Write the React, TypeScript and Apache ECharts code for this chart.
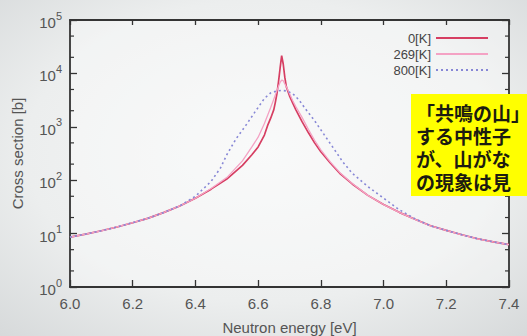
import React, { useEffect, useRef } from "react";
import * as echarts from "echarts";

// ---- data ----
const energy0K = [6.0, 6.05, 6.1, 6.15, 6.2, 6.25, 6.3, 6.35, 6.4, 6.45, 6.5, 6.55, 6.58, 6.6, 6.62, 6.63, 6.64, 6.65, 6.655, 6.66, 6.665, 6.67, 6.675, 6.68, 6.685, 6.69, 6.7, 6.71, 6.72, 6.74, 6.76, 6.78, 6.8, 6.83, 6.86, 6.9, 6.95, 7.0, 7.05, 7.1, 7.15, 7.2, 7.25, 7.3, 7.35, 7.4];
const sigma0K = [8.6, 9.8, 11.3, 13.3, 16, 19.5, 25, 33, 46, 68, 105, 190, 300, 420, 700, 1050, 1450, 2100, 2900, 4200, 7000, 12500, 21500, 15000, 8500, 5600, 3800, 2800, 2100, 1250, 780, 500, 340, 210, 135, 85, 52, 35, 25, 18.5, 14, 11.5, 9.5, 8, 7, 6.2];

const energy269K = [6.0, 6.05, 6.1, 6.15, 6.2, 6.25, 6.3, 6.35, 6.4, 6.45, 6.5, 6.55, 6.58, 6.6, 6.62, 6.64, 6.65, 6.66, 6.67, 6.675, 6.68, 6.69, 6.7, 6.71, 6.72, 6.74, 6.76, 6.78, 6.8, 6.83, 6.86, 6.9, 6.95, 7.0, 7.05, 7.1, 7.15, 7.2, 7.25, 7.3, 7.35, 7.4];
const sigma269K = [8.6, 9.8, 11.3, 13.3, 16, 19.5, 25, 33, 46, 70, 112, 230, 420, 640, 1150, 2300, 3300, 4800, 6800, 7500, 7300, 5600, 4200, 3100, 2400, 1500, 900, 560, 370, 220, 140, 87, 52, 35, 25, 18.5, 14, 11.5, 9.5, 8, 7, 6.2];

const energy800K = [6.0, 6.05, 6.1, 6.15, 6.2, 6.25, 6.3, 6.35, 6.4, 6.45, 6.48, 6.5, 6.53, 6.56, 6.59, 6.62, 6.64, 6.66, 6.675, 6.69, 6.71, 6.73, 6.75, 6.78, 6.81, 6.84, 6.87, 6.9, 6.95, 7.0, 7.05, 7.1, 7.15, 7.2, 7.25, 7.3, 7.35, 7.4];
const sigma800K = [8.6, 9.8, 11.3, 13.3, 16, 19.5, 25, 33, 50, 95, 170, 300, 600, 1050, 1900, 3400, 4300, 4700, 4800, 4700, 4200, 3200, 2200, 1300, 720, 400, 220, 135, 76, 46, 28, 19, 14, 11.5, 9.5, 8, 7, 6.2];

const seriesNames = ["0[K]", "269[K]", "800[K]"];
const minorTickValues = [2, 5, 20, 50, 200, 500, 2000, 5000, 20000, 50000];
const annotationLines = ["「共鳴の山」", "する中性子", "が、山がな", "の現象は見"];

const X_MIN = 6.0;
const X_MAX = 7.4;
const FONT = "'Liberation Sans', Arial, sans-serif";
const JP_FONT = "'Noto Sans CJK JP', sans-serif";
const AXIS_COLOR = "#343434";
const LABEL_COLOR = "#555";

const zip = (xs: number[], ys: number[]) => xs.map((x, i) => [x, ys[i]]);

export default function App() {
  const ref = useRef<HTMLDivElement>(null);

  useEffect(() => {
    document.body.style.margin = "0";
    const chart = echarts.init(ref.current!, null, { renderer: "svg" });

    const axisLine = { show: true, lineStyle: { color: AXIS_COLOR, width: 1.8 } };
    const axisTick = { show: true, inside: true, length: 7, lineStyle: { color: AXIS_COLOR, width: 1.3 } };

    const option: any = {
      animation: false,
      backgroundColor: new echarts.graphic.RadialGradient(0.5, 0.45, 0.75, [
        { offset: 0, color: "#f6f7f7" },
        { offset: 0.6, color: "#eceeee" },
        { offset: 1, color: "#d6d9da" },
      ]),
      grid: {
        left: 70,
        right: 18,
        top: 20,
        bottom: 49,
        containLabel: false,
        outerBoundsMode: "none",
        show: true,
        borderWidth: 0,
        backgroundColor: "rgba(255,255,255,0.35)",
      },
      legend: {
        data: seriesNames,
        orient: "vertical",
        align: "right",
        right: 33,
        top: 25,
        itemWidth: 52,
        itemHeight: 16,
        itemGap: 0,
        itemStyle: { color: "rgba(0,0,0,0)", borderWidth: 0, opacity: 0 },
        textStyle: { fontFamily: FONT, fontSize: 13, color: "#444", lineHeight: 16 },
        selectedMode: false,
      },
      xAxis: [
        {
          type: "value",
          min: X_MIN,
          max: X_MAX,
          interval: 0.2,
          position: "bottom",
          name: "Neutron energy [eV]",
          nameLocation: "middle",
          nameGap: 33,
          nameTextStyle: { fontFamily: FONT, fontSize: 15, color: LABEL_COLOR },
          axisLine,
          axisTick,
          splitLine: { show: false },
          axisLabel: {
            margin: 9,
            fontFamily: FONT,
            fontSize: 15,
            color: LABEL_COLOR,
            formatter: (v: number) => v.toFixed(1),
          },
        },
        {
          type: "value",
          min: X_MIN,
          max: X_MAX,
          interval: 0.2,
          position: "top",
          axisLine,
          axisTick: { ...axisTick, length: 5 },
          splitLine: { show: false },
          axisLabel: { show: false },
        },
      ],
      yAxis: [
        {
          type: "log",
          logBase: 10,
          min: 1,
          max: 100000,
          position: "left",
          name: "Cross section [b]",
          nameLocation: "middle",
          nameGap: 45,
          nameRotate: 90,
          nameTextStyle: { fontFamily: FONT, fontSize: 15, color: LABEL_COLOR },
          axisLine,
          axisTick,
          splitLine: { show: false },
          axisLabel: {
            margin: 8,
            formatter: (v: number) => `{b|10}{s|${Math.round(Math.log10(v))}}`,
            rich: {
              b: { fontFamily: FONT, fontSize: 15, color: LABEL_COLOR, lineHeight: 20, verticalAlign: "bottom" },
              s: { fontFamily: FONT, fontSize: 11, color: LABEL_COLOR, verticalAlign: "top" },
            },
          },
        },
        {
          type: "log",
          logBase: 10,
          min: 1,
          max: 100000,
          position: "right",
          axisLine,
          axisTick,
          splitLine: { show: false },
          axisLabel: { show: false },
        },
      ],
      series: [
        {
          name: seriesNames[0],
          type: "line",
          data: zip(energy0K, sigma0K),
          symbol: "none",
          smooth: false,
          lineStyle: { color: "#d63e62", width: 1.7 },
          z: 3,
        },
        {
          name: seriesNames[1],
          type: "line",
          data: zip(energy269K, sigma269K),
          symbol: "none",
          smooth: false,
          lineStyle: { color: "#f4a2c4", width: 1.3 },
          z: 4,
        },
        {
          name: seriesNames[2],
          type: "line",
          data: zip(energy800K, sigma800K),
          symbol: "none",
          smooth: false,
          lineStyle: { color: "#8787d6", width: 1.6, type: [2, 3] },
          z: 5,
        },
        {
          type: "custom",
          silent: true,
          z: 6,
          data: minorTickValues.map((v) => [X_MIN, v]),
          renderItem: (_params: any, api: any) => {
            const v = api.value(1);
            const pl = api.coord([X_MIN, v]);
            const pr = api.coord([X_MAX, v]);
            const st = { stroke: AXIS_COLOR, lineWidth: 1.2 };
            return {
              type: "group",
              children: [
                { type: "line", shape: { x1: pl[0], y1: pl[1], x2: pl[0] + 4, y2: pl[1] }, style: st },
                { type: "line", shape: { x1: pr[0] - 4, y1: pr[1], x2: pr[0], y2: pr[1] }, style: st },
              ],
            };
          },
        },
      ],
      graphic: [
        {
          type: "rect",
          z: 100,
          shape: { x: 411, y: 94, width: 130, height: 102 },
          style: { fill: "#ffff00" },
        },
        {
          type: "text",
          z: 101,
          x: 416,
          y: 100.4,
          style: {
            text: annotationLines.join("\n"),
            fontFamily: JP_FONT,
            fontSize: 19,
            fontWeight: "bold",
            lineHeight: 23.3,
            fill: "#1c1c10",
            verticalAlign: "top",
            align: "left",
          },
        },
      ],
    };

    chart.setOption(option);
    return () => chart.dispose();
  }, []);

  return <div ref={ref} style={{ width: 527, height: 336 }} />;
}
